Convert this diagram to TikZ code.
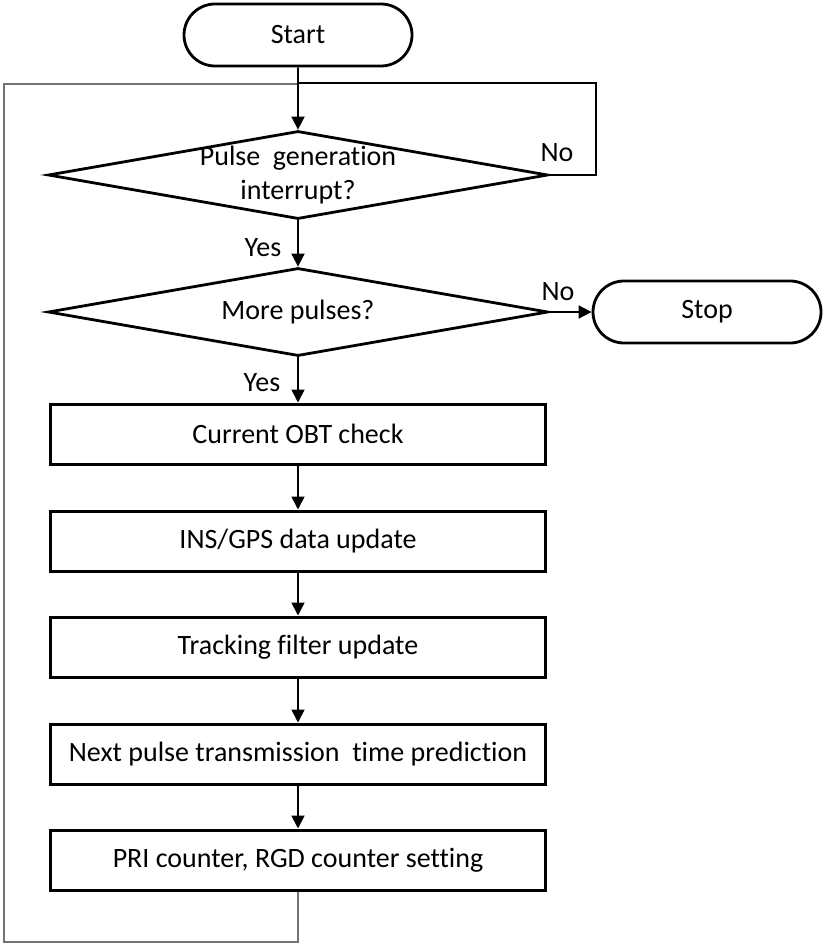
\documentclass[tikz,border=0pt]{standalone}
\usepackage{fontspec}
\setmainfont[Ligatures=NoCommon]{Carlito}
\usetikzlibrary{shapes.geometric,shapes.misc,arrows.meta}
\begin{document}
\begin{tikzpicture}[x=1pt,y=-1pt,
  font=\fontsize{28}{34}\selectfont,
  term/.style={draw,line width=2.8pt,rounded rectangle,minimum width=228pt,minimum height=62pt,inner sep=0pt},
  dec/.style={draw,line width=2.8pt,diamond,minimum width=500pt,minimum height=88pt,inner sep=0pt},
  proc/.style={draw,line width=3pt,rectangle,minimum width=495pt,minimum height=60pt,inner sep=0pt},
  flow/.style={line width=1.8pt,-{Triangle[length=13pt,width=13pt]}},
  plainline/.style={line width=1.8pt},
  loopline/.style={line width=2.2pt,draw=black!55},
  lbl/.style={inner sep=0pt}
]
\useasboundingbox (0,0) rectangle (827,949);
\node[term] (start) at (298,35) {Start};
\node[dec, label={[align=center,lbl]center:Pulse\ \ generation\\interrupt?}] (d1) at (298,175) {};
\node[dec, label={[lbl]center:More pulses?}] (d2) at (298,312) {};
\node[term] (stop) at (707,312) {Stop};
\node[proc] (obt) at (298,434) {Current OBT check};
\node[proc] (ins) at (298,541) {INS/GPS data update};
\node[proc] (trk) at (298,647) {Tracking filter update};
\node[proc] (nxt) at (298,754) {Next pulse transmission\ \ time prediction};
\node[proc] (pri) at (298,860) {PRI counter, RGD counter setting};

\node[lbl] (yes1) at (263,248) {Yes};
\node[lbl] (yes2) at (262,383) {Yes};
\node[lbl] (no1) at (557,153) {No};
\node[lbl] (no2) at (558,292) {No};

\coordinate (nr) at (596,83);
\coordinate (bl) at (4,942);
\coordinate (tl) at (4,84);

\draw[loopline] (pri.south) -- (pri.south |- bl) -- (bl) -- (tl) -- (tl -| start.south);
\draw[plainline] (d1.east) -| (nr) -- (nr -| start.south);
\draw[flow] (start) -- (d1);
\draw[flow] (d1) -- (d2);
\draw[flow] (d2.east) -- (stop.west);
\draw[flow] (d2) -- (obt);
\draw[flow] (obt) -- (ins);
\draw[flow] (ins) -- (trk);
\draw[flow] (trk) -- (nxt);
\draw[flow] (nxt) -- (pri);
\end{tikzpicture}
\end{document}
